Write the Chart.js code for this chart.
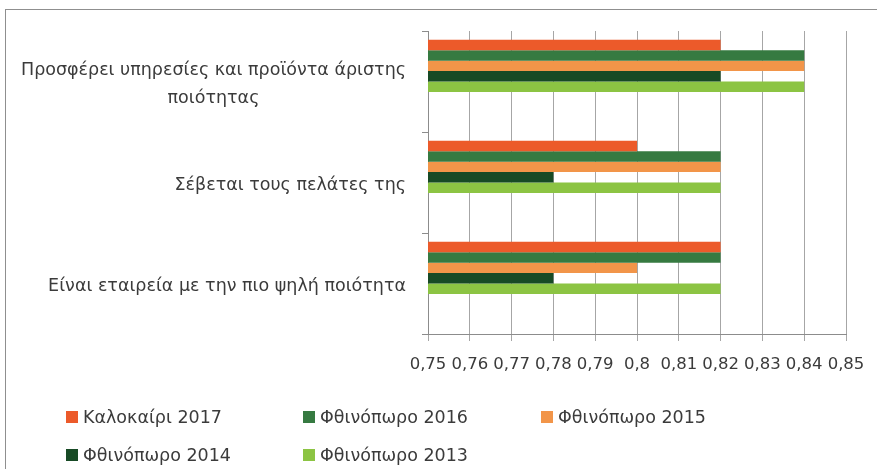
<!DOCTYPE html>
<html>
<head>
<meta charset="utf-8">
<script src="https://cdn.jsdelivr.net/npm/chart.js@4.4.1/dist/chart.umd.min.js"></script>
<style>
  html, body { margin: 0; padding: 0; background: #fff; width: 877px; height: 469px; overflow: hidden; }
  #frame { position: absolute; left: 5px; top: 9px; width: 900px; height: 500px; border: 1px solid #8f8f8f; box-sizing: border-box; }
  #c { position: absolute; left: 0; top: 0; }
  #legend { position: absolute; left: 0; top: 0; width: 877px; height: 469px; pointer-events: none;
            font-family: "DejaVu Sans", sans-serif; font-size: 17.5px; color: #3b3b3b; }
  .item { position: absolute; height: 22px; line-height: 22px; white-space: nowrap; }
  .sw { position: absolute; left: 0; top: 5px; width: 12px; height: 12px; }
  .tx { position: absolute; left: 17px; top: 0; }
</style>
</head>
<body>
<div id="frame"></div>
<canvas id="c" width="877" height="469"></canvas>
<div id="legend"></div>
<script>
const categories = [
  ['Προσφέρει υπηρεσίες και προϊόντα άριστης', 'ποιότητας'],
  'Σέβεται τους πελάτες της',
  'Είναι εταιρεία με την πιο ψηλή ποιότητα'
];
const seriesNames = ['Καλοκαίρι 2017', 'Φθινόπωρο 2016', 'Φθινόπωρο 2015', 'Φθινόπωρο 2014', 'Φθινόπωρο 2013'];
const kalokairi2017  = [0.82, 0.80, 0.82];
const fthinoporo2016 = [0.84, 0.82, 0.82];
const fthinoporo2015 = [0.84, 0.82, 0.80];
const fthinoporo2014 = [0.82, 0.78, 0.78];
const fthinoporo2013 = [0.84, 0.82, 0.82];
const xTickLabels = ['0,75', '0,76', '0,77', '0,78', '0,79', '0,8', '0,81', '0,82', '0,83', '0,84', '0,85'];

const seriesValues = [kalokairi2017, fthinoporo2016, fthinoporo2015, fthinoporo2014, fthinoporo2013];
const seriesColors = ['#ec5a2a', '#367a41', '#f29549', '#174a25', '#8cc443'];

const datasets = seriesNames.map((name, i) => ({
  label: name,
  data: seriesValues[i],
  backgroundColor: seriesColors[i],
  borderWidth: 0
}));
// empty slots that keep the grouped bars in the upper part of each band (as in the source)
for (let k = 0; k < 3; k++) {
  datasets.push({ label: '', data: categories.map(() => null), backgroundColor: 'rgba(0,0,0,0)' });
}

const FONT = 'DejaVu Sans';
const Y_FONT = { family: FONT, size: 17.5, lineHeight: 1.55 };

// centre the lines of a multi-line category label within its (right-aligned) block
const centerMultiLine = {
  id: 'centerMultiLine',
  beforeDraw(chart) {
    const sc = chart.scales.y;
    if (!sc || typeof sc.getLabelItems !== 'function') return;
    const items = sc.getLabelItems(chart.chartArea);
    const ctx = chart.ctx;
    ctx.save();
    ctx.font = `${Y_FONT.size}px "${FONT}"`;
    items.forEach(it => {
      if (Array.isArray(it.label) && it.options && it.options.translation && !it._centered) {
        const w = Math.max(...it.label.map(s => ctx.measureText(s).width));
        it.options.textAlign = 'center';
        it.options.translation[0] -= w / 2;
        it._centered = true;
      }
    });
    ctx.restore();
  }
};

const chart = new Chart(document.getElementById('c'), {
  type: 'bar',
  data: { labels: categories, datasets },
  plugins: [centerMultiLine],
  options: {
    indexAxis: 'y',
    responsive: false,
    devicePixelRatio: 1,
    animation: false,
    datasets: { bar: { categoryPercentage: 0.825, barPercentage: 1.0 } },
    layout: { padding: { left: 0, right: 31, top: 31, bottom: 95 } },
    plugins: { legend: { display: false }, tooltip: { enabled: false } },
    scales: {
      x: {
        type: 'linear',
        min: 0.75, max: 0.85,
        ticks: {
          stepSize: 0.01,
          padding: 14,
          color: '#3b3b3b',
          autoSkip: false,
          maxRotation: 0,
          minRotation: 0,
          font: { family: FONT, size: 16.5 },
          callback: (v, i) => xTickLabels[i]
        },
        grid: { color: '#a6a6a6', lineWidth: 1, tickLength: 7, drawOnChartArea: true },
        border: { display: true, color: '#8c8c8c', width: 1 },
        afterFit: (axis) => { axis.height = 40; axis.paddingLeft = 0; axis.paddingRight = 0; }
      },
      y: {
        type: 'category',
        offset: true,
        ticks: {
          padding: 16,
          color: '#3b3b3b',
          labelOffset: 3,
          font: Y_FONT
        },
        grid: { color: '#8c8c8c', drawOnChartArea: false, tickLength: 6, offset: true },
        border: { display: true, color: '#8c8c8c', width: 1 },
        afterFit: (axis) => { axis.width = 428; }
      }
    }
  }
});

// legend built from the chart's own datasets
const legendPos = [[66, 406], [303, 406], [541, 406], [66, 444], [303, 444]];
const lg = document.getElementById('legend');
chart.data.datasets.filter(d => d.label).forEach((d, i) => {
  const it = document.createElement('div');
  it.className = 'item';
  it.style.left = legendPos[i][0] + 'px';
  it.style.top = legendPos[i][1] + 'px';
  const sw = document.createElement('span'); sw.className = 'sw'; sw.style.background = d.backgroundColor;
  const tx = document.createElement('span'); tx.className = 'tx'; tx.textContent = d.label;
  it.appendChild(sw); it.appendChild(tx);
  lg.appendChild(it);
});
</script>
</body>
</html>
